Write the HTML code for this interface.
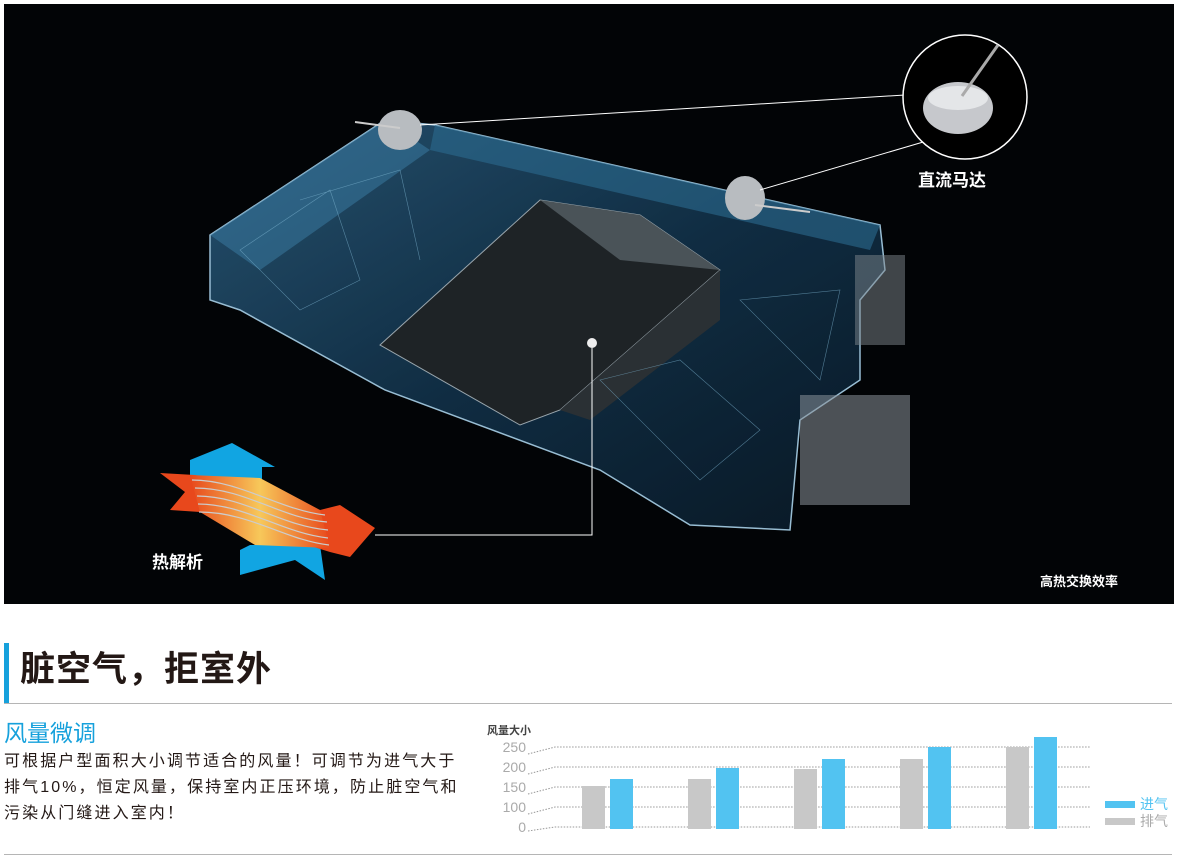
<!DOCTYPE html>
<html><head><meta charset="utf-8"><style>
html,body{margin:0;padding:0;background:#fff;width:1178px;height:866px;overflow:hidden;font-family:"Liberation Sans","Noto Sans CJK SC",sans-serif;}
.abs{position:absolute}
</style></head><body>
<div class="abs" style="left:4px;top:4px;width:1170px;height:600px;background:#020406;"></div>
<svg class="abs" style="left:0;top:0" width="1178" height="610">
<defs>
<linearGradient id="bx" x1="0" y1="0" x2="1" y2="1"><stop offset="0" stop-color="#2a5a7a"/><stop offset="0.5" stop-color="#12324a"/><stop offset="1" stop-color="#0a1a28"/></linearGradient>
<linearGradient id="core" x1="0" y1="0" x2="1" y2="0"><stop offset="0" stop-color="#e8481c"/><stop offset="0.5" stop-color="#f7c85a"/><stop offset="1" stop-color="#e8481c"/></linearGradient>
</defs>
<polygon points="210,235 385,120 435,125 880,225 885,270 860,300 860,380 800,420 790,530 690,525 600,470 385,390 240,310 210,300" fill="url(#bx)" stroke="#a9d2ea" stroke-width="1.5" opacity="0.9"/>
<polygon points="435,125 880,225 870,250 430,150" fill="#2b6a90" opacity="0.6"/>
<polygon points="210,235 385,120 430,150 260,270" fill="#3b7ea6" opacity="0.5"/>
<polygon points="380,345 540,200 640,215 720,270 560,410 520,425" fill="#1e2326" stroke="#9aa6ad"/>
<polygon points="540,200 640,215 720,270 620,260" fill="#4a5358"/>
<polygon points="560,410 720,270 720,320 590,420" fill="#2a3034"/>
<g stroke="#7fb5d2" stroke-width="0.6" fill="none" opacity="0.6">
<path d="M240,250 L330,190 L360,280 L300,310 Z M600,380 L700,480 L760,430 L680,360 Z M740,300 L840,290 L820,380 Z M300,200 L400,170 L420,260"/>
</g>
<rect x="800" y="395" width="110" height="110" fill="#8a9299" opacity="0.55"/>
<rect x="855" y="255" width="50" height="90" fill="#7d858c" opacity="0.5"/>
<ellipse cx="400" cy="130" rx="22" ry="20" fill="#b8bcc0"/>
<ellipse cx="745" cy="198" rx="20" ry="22" fill="#b8bcc0"/>
<line x1="355" y1="122" x2="400" y2="128" stroke="#ccc" stroke-width="2"/>
<line x1="755" y1="205" x2="810" y2="212" stroke="#ccc" stroke-width="2"/>
<line x1="420" y1="125" x2="905" y2="95" stroke="#fff" stroke-width="1"/>
<line x1="760" y1="190" x2="930" y2="140" stroke="#fff" stroke-width="1"/>
<circle cx="965" cy="97" r="62" fill="#000" stroke="#fff" stroke-width="1.5"/>
<ellipse cx="958" cy="108" rx="35" ry="26" fill="#c6c8cc"/>
<ellipse cx="958" cy="98" rx="30" ry="12" fill="#e4e6e8"/>
<line x1="962" y1="96" x2="998" y2="45" stroke="#aaa" stroke-width="3"/>
<text x="918" y="186" fill="#fff" font-size="17" font-weight="bold" font-family="Liberation Sans,Noto Sans CJK SC,sans-serif">直流马达</text>
<circle cx="592" cy="343" r="5" fill="#eee"/>
<polyline points="592,348 592,535 375,535" fill="none" stroke="#fff" stroke-width="1"/>
<polygon points="190,460 232,443 275,467 262,467 262,480 190,480" fill="#11a5e2"/>
<polygon points="240,550 250,545 320,545 325,580 295,560 240,575" fill="#11a5e2"/>
<polygon points="160,473 195,475 320,510 340,505 375,528 350,557 330,552 200,512 170,510 185,492" fill="#e8481c"/>
<polygon points="190,475 260,478 320,510 330,548 255,545 200,512" fill="url(#core)"/>
<g stroke="#ccc" stroke-width="1.2" fill="none">
<path d="M192,480 C240,480 280,510 325,515"/><path d="M195,488 C245,488 280,518 327,522"/>
<path d="M197,496 C245,496 280,526 328,530"/><path d="M198,504 C245,504 282,533 328,538"/>
<path d="M199,512 C250,512 285,540 329,545"/>
</g>
<text x="152" y="568" fill="#fff" font-size="17" font-weight="bold" font-family="Liberation Sans,Noto Sans CJK SC,sans-serif">热解析</text>
<text x="1040" y="586" fill="#fff" font-size="13" font-weight="bold" font-family="Liberation Sans,Noto Sans CJK SC,sans-serif">高热交换效率</text>
</svg>

<div class="abs" style="left:4px;top:643px;width:5px;height:61px;background:#16a1dc"></div>
<div class="abs" style="left:20px;top:646px;font-size:35px;letter-spacing:1px;font-weight:bold;color:#231815;line-height:48px;">脏空气，拒室外</div>
<div class="abs" style="left:4px;top:703px;width:1168px;height:1px;background:#b5b5b5"></div>
<div class="abs" style="left:4px;top:718px;font-size:23px;color:#16a1dc;line-height:30px;">风量微调</div>
<div class="abs" style="left:4px;top:749px;width:480px;font-size:16px;letter-spacing:2.1px;color:#231815;line-height:26px;white-space:nowrap;">可根据户型面积大小调节适合的风量！可调节为进气大于<br>排气10%，恒定风量，保持室内正压环境，防止脏空气和<br>污染从门缝进入室内！</div>
<div class="abs" style="left:4px;top:854px;width:1168px;height:1px;background:#b5b5b5"></div>

<svg class="abs" style="left:480px;top:710px" width="698" height="140" font-family="Liberation Sans,Noto Sans CJK SC,sans-serif">
<text x="7" y="24" font-size="11" font-weight="bold" fill="#444">风量大小</text>
<g stroke="#999" stroke-dasharray="1.5,1.5" fill="none">
<path d="M48,44 L75,37 L610,37"/><path d="M48,64 L75,57 L610,57"/><path d="M48,84 L75,77 L610,77"/><path d="M48,104 L75,97 L610,97"/><path d="M48,121 L75,117 L610,117"/>
</g>
<g font-size="14" fill="#aaa" text-anchor="end">
<text x="46" y="42">250</text><text x="46" y="62">200</text><text x="46" y="82">150</text><text x="46" y="102">100</text><text x="46" y="122">0</text>
</g>
<g fill="#c8c8c8">
<rect x="102" y="76" width="23" height="43"/><rect x="208" y="69" width="23" height="50"/><rect x="314" y="59" width="23" height="60"/><rect x="420" y="49" width="23" height="70"/><rect x="526" y="37" width="23" height="82"/>
</g>
<g fill="#52c3f1">
<rect x="130" y="69" width="23" height="50"/><rect x="236" y="58" width="23" height="61"/><rect x="342" y="49" width="23" height="70"/><rect x="448" y="37" width="23" height="82"/><rect x="554" y="27" width="23" height="92"/>
</g>
<rect x="625" y="91" width="30" height="7" fill="#52c3f1"/>
<rect x="625" y="108" width="30" height="7" fill="#c8c8c8"/>
<text x="660" y="99" font-size="14" fill="#52c3f1">进气</text>
<text x="660" y="116" font-size="14" fill="#aaa">排气</text>
</svg>
</body></html>
